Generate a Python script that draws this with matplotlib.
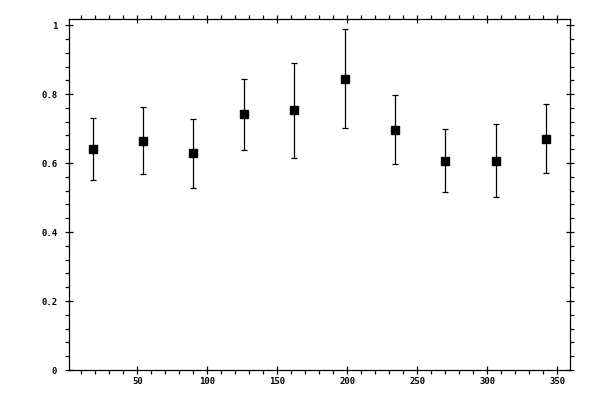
import matplotlib
matplotlib.use("Agg")
import matplotlib.pyplot as plt
from matplotlib.ticker import MultipleLocator

# bin centres and measured values
angles = [18, 54, 90, 126, 162, 198, 234, 270, 306, 342]
values = [0.642, 0.665, 0.628, 0.741, 0.753, 0.845, 0.697, 0.607, 0.607, 0.671]
errors = [0.090, 0.097, 0.099, 0.104, 0.137, 0.144, 0.100, 0.091, 0.105, 0.100]

fig = plt.figure(figsize=(6, 4), dpi=100)
ax = fig.add_axes([0.1155, 0.075, 0.8345, 0.8768])

ax.errorbar(angles, values, yerr=errors, fmt='s', color='black',
            markersize=5.5, elinewidth=0.9, capsize=2.2, capthick=0.9)

ax.set_xlim(1.4, 359)
ax.set_ylim(0, 1.017)

ax.xaxis.set_major_locator(MultipleLocator(50))
ax.xaxis.set_minor_locator(MultipleLocator(10))
ax.yaxis.set_major_locator(MultipleLocator(0.2))
ax.yaxis.set_minor_locator(MultipleLocator(0.04))
ax.yaxis.set_major_formatter(lambda v, p: '%g' % round(v, 2))

for s in ax.spines.values():
    s.set_linewidth(0.9)

ax.tick_params(which='major', direction='inout', length=5.5, width=0.9,
               top=True, right=True, labelsize=6.5)
ax.tick_params(which='minor', direction='out', length=2.6, width=0.9,
               top=True, right=True)
ax.tick_params(axis='y', which='major', pad=6)
ax.tick_params(axis='x', which='major', pad=2.5)
for lab in ax.get_xticklabels() + ax.get_yticklabels():
    lab.set_family('DejaVu Sans Mono')
    lab.set_fontweight('bold')

fig.savefig('out.png', dpi=100)
